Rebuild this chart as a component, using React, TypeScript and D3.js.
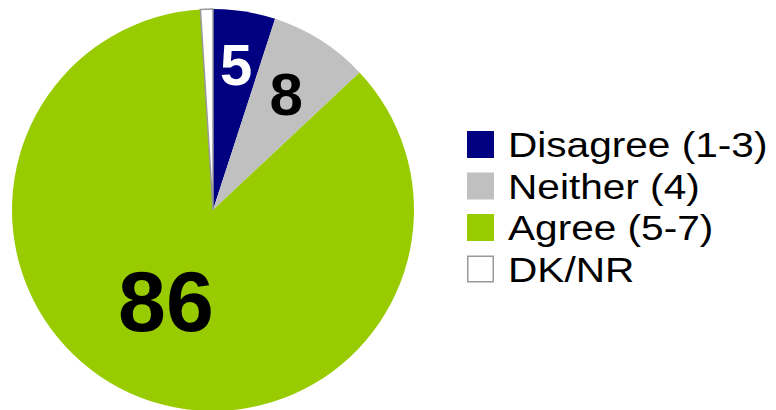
import React from "react";
import * as d3 from "d3";

const categories = ["Disagree (1-3)", "Neither (4)", "Agree (5-7)", "DK/NR"];
const values = [5, 8, 86, 1];
const labels = ["5", "8", "86", ""];
const colors = ["#000080", "#C0C0C0", "#99CC00", "#FFFFFF"];
const labelColors = ["#FFFFFF", "#000000", "#000000", "#000000"];

export default function App() {
  const width = 776;
  const height = 410;
  const cx = 213;
  const cy = 210;
  const r = 201;

  const pie = d3.pie<number>().sort(null).value((d) => d);
  const arcs = pie(values);
  const arc = d3.arc<d3.PieArcDatum<number>>().innerRadius(0).outerRadius(r);

  const labelRadius = [0.735, 0.68, 0.51, 0];
  const labelAngleShift = [0, 0, 0.1, 0];
  const labelSizes = [58, 60, 86, 0];

  return (
    <svg
      width={width}
      height={height}
      style={{ position: "absolute", left: 0, top: 0, background: "#fff" }}
      fontFamily="'Liberation Sans', Arial, sans-serif"
    >
      <g transform={`translate(${cx},${cy})`}>
        {arcs.map((a, i) => (
          <path
            key={i}
            d={arc(a) || ""}
            fill={colors[i]}
            stroke={i === 3 ? "#999999" : "none"}
            strokeWidth={i === 3 ? 1.5 : 0}
          />
        ))}
        {arcs.map((a, i) => {
          if (!labels[i]) return null;
          const mid = (a.startAngle + a.endAngle) / 2 + labelAngleShift[i];
          const lr = r * labelRadius[i];
          const x = Math.sin(mid) * lr;
          const y = -Math.cos(mid) * lr;
          return (
            <text
              key={"l" + i}
              x={x}
              y={y}
              textAnchor="middle"
              dominantBaseline="central"
              fontWeight="bold"
              fontSize={labelSizes[i]}
              fill={labelColors[i]}
            >
              {labels[i]}
            </text>
          );
        })}
      </g>
      <g transform="translate(467,131)">
        {categories.map((c, i) => (
          <g key={c} transform={`translate(0,${i * 41.5})`}>
            <rect
              x={i === 3 ? 0.75 : 0}
              y={i === 3 ? 0.75 : 0}
              width={i === 3 ? 25.5 : 27}
              height={i === 3 ? 25.5 : 27}
              fill={colors[i]}
              stroke={i === 3 ? "#999999" : "none"}
              strokeWidth={i === 3 ? 1.5 : 0}
            />
            <text
              transform="translate(41,14) scale(1.16,1)"
              dominantBaseline="central"
              fontSize={35}
              fill="#000"
            >
              {c}
            </text>
          </g>
        ))}
      </g>
    </svg>
  );
}
